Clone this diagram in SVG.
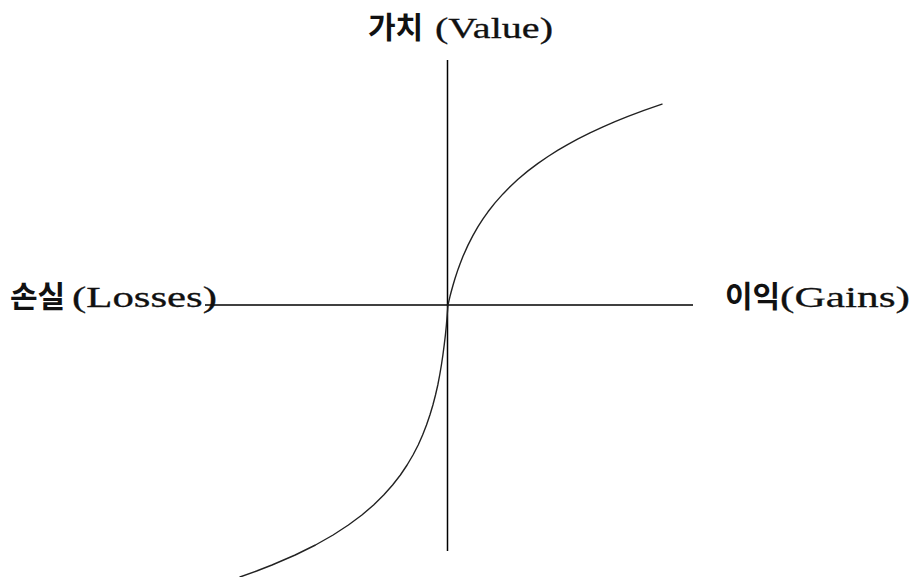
<svg xmlns="http://www.w3.org/2000/svg" width="916" height="577" viewBox="0 0 916 577">
<style>
.ko{font-family:"Noto Sans CJK KR",sans-serif;font-size:30px;font-weight:bold;fill:#111}
.la{font-family:"Liberation Serif",serif;font-size:30px;fill:#111;stroke:#111;stroke-width:0.3}
.axis{stroke:#000;stroke-width:1.5;fill:none}
.curve{stroke:#222;stroke-width:1.4;fill:none;stroke-linejoin:round;stroke-linecap:round}
</style>
<rect width="916" height="577" fill="#fff"/>
<g id="connectors">
<line id="y-axis" class="axis" x1="447.5" y1="60" x2="447.5" y2="551"/>
<line id="x-axis" class="axis" x1="205" y1="305" x2="693" y2="305"/>
<path id="gain-curve" class="curve" d="M448,305 L449,300.6 L450,296.4 L451,292.5 L453,285.2 L455,278.5 L458,269.4 L460,263.9 L463,256.3 L468,245.1 L473,235.4 L478,226.7 L483,218.9 L488,211.8 L495,202.9 L503,193.9 L510,186.7 L518,179.3 L528,170.9 L538,163.4 L548,156.5 L558,150.2 L568,144.3 L578,138.9 L590,132.8 L603,126.8 L615,121.6 L628,116.3 L644,110.3 L662,104.1"/>
<path id="loss-curve" class="curve" d="M448,305 L447.2,315 L446.4,325 L445.4,335 L444.2,345 L442.9,355 L441.4,365 L439.7,375 L437.8,385 L435.5,395 L432.9,405 L429.9,415 L426.5,425 L422.6,435 L418.2,445 L413,455 L407.1,465 L400.4,475 L392.6,485 L383.7,495 L373.6,505 L361.9,515 L348.4,525 L333.1,535 L315.5,545 L295.2,555 L272,565 L256.6,571 L240,577"/>
</g>
<g id="label-value">
<text y="38"><tspan class="ko" x="368">가치</tspan><tspan class="la" x="435" textLength="118" lengthAdjust="spacingAndGlyphs">(Value)</tspan></text>
</g>
<g id="label-losses">
<text y="307"><tspan class="ko" x="10">손실</tspan><tspan class="la" x="72" textLength="145" lengthAdjust="spacingAndGlyphs">(Losses)</tspan></text>
</g>
<g id="label-gains">
<text y="307"><tspan class="ko" x="725">이익</tspan><tspan class="la" x="780" textLength="130" lengthAdjust="spacingAndGlyphs">(Gains)</tspan></text>
</g>
</svg>
